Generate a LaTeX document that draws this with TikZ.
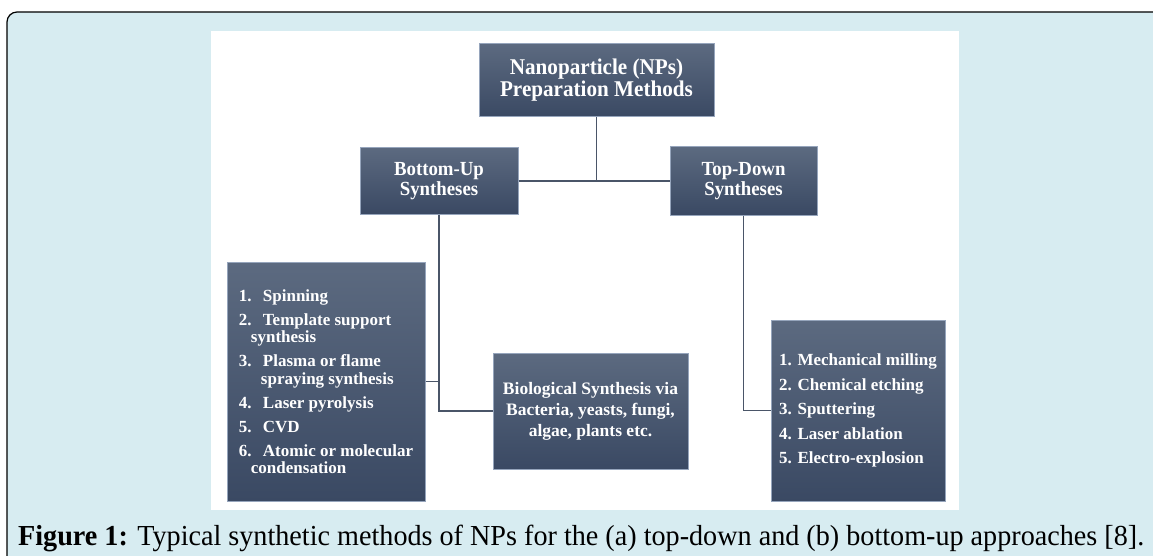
\documentclass[tikz,border=0pt]{standalone}
\usepackage{fontspec}
\setmainfont{Liberation Serif}
\newfontfamily\tallfont{Liberation Serif}[FakeStretch=0.94]
\usepackage{graphicx}
\usetikzlibrary{positioning, calc}

\definecolor{panelblue}{RGB}{215,236,241}
\definecolor{boxtop}{RGB}{92,106,128}
\definecolor{boxbot}{RGB}{58,73,99}
\definecolor{boxedge}{RGB}{150,165,188}
\definecolor{linkgray}{RGB}{74,85,104}

\tikzset{
  methodbox/.style={draw=boxedge, line width=1pt, top color=boxtop, bottom color=boxbot, text=white, inner sep=0pt},
  link/.style={draw=linkgray, line width=1.5pt},
}

\newcommand{\itm}[2]{\makebox[24pt][l]{#1}#2}

\begin{document}
\begin{tikzpicture}[x=1pt, y=-1pt]
\useasboundingbox (0,0) rectangle (1153,556);
\clip (0,0) rectangle (1153,556);
% frame and white canvas
\draw[fill=panelblue, line width=1.2pt, rounded corners=10pt] (7,12) rectangle (1180,566);
\fill[white] (211,31) rectangle (959,510);

% main boxes
\node[methodbox, minimum width=235pt, minimum height=73pt, align=center,
  font=\tallfont\bfseries\fontsize{22.5}{22}\selectfont] (top) at (596.5,80.5) {Nanoparticle (NPs)\\Preparation Methods};
\node[methodbox, minimum width=158pt, minimum height=66pt, align=center,
  font=\tallfont\bfseries\fontsize{20}{20}\selectfont] (bu) at (439,181) {Bottom-Up\\Syntheses};
\node[methodbox, minimum width=147pt, minimum height=68pt, align=center,
  font=\tallfont\bfseries\fontsize{20}{20}\selectfont] (td) at (743.5,181) {Top-Down\\Syntheses};

% method lists
\node[methodbox, minimum width=198pt, minimum height=239pt, align=left,
  font=\bfseries\fontsize{17}{17.5}\selectfont] (bul) at (326,381.5)
  {\itm{1.}{Spinning}\\[6.5pt]
   \itm{2.}{Template support}\\
   \hspace{12pt}synthesis\\[6.5pt]
   \itm{3.}{Plasma or flame}\\
   \hspace{22pt}spraying synthesis\\[6.5pt]
   \itm{4.}{Laser pyrolysis}\\[6.5pt]
   \itm{5.}{CVD}\\[6.5pt]
   \itm{6.}{Atomic or molecular}\\
   \hspace{12pt}condensation};
\node[methodbox, minimum width=195pt, minimum height=116pt, align=center,
  font=\bfseries\fontsize{17.5}{21}\selectfont] (bio) at (590.5,411)
  {Biological Synthesis via\\Bacteria, yeasts, fungi,\\algae, plants etc.};
\node[methodbox, minimum width=174pt, minimum height=181pt, align=left,
  font=\bfseries\fontsize{17}{24.5}\selectfont] (tdl) at (858,410.5)
  {1. Mechanical milling\\2. Chemical etching\\3. Sputtering\\4. Laser ablation\\5. Electro-explosion};

% connectors
\draw[link] (top.south) -- (top.south |- bu.east);
\draw[link] (bu.east) -- (td.west);
\draw[link] (bu.south) -- (bu.south |- bio.west) -- (bio.west);
\draw[link] (bul.east) -- (bul.east -| bu.south);
\draw[link] (td.south) -- (td.south |- tdl.west) -- (tdl.west);

% caption
\node[anchor=base west, inner sep=0pt] (cap) at (18,545)
  {\resizebox{1126pt}{\height}{\fontsize{29}{31}\selectfont\textbf{Figure 1:} Typical synthetic methods of NPs for the (a) top-down and (b) bottom-up approaches [8].}};
\end{tikzpicture}
\end{document}
